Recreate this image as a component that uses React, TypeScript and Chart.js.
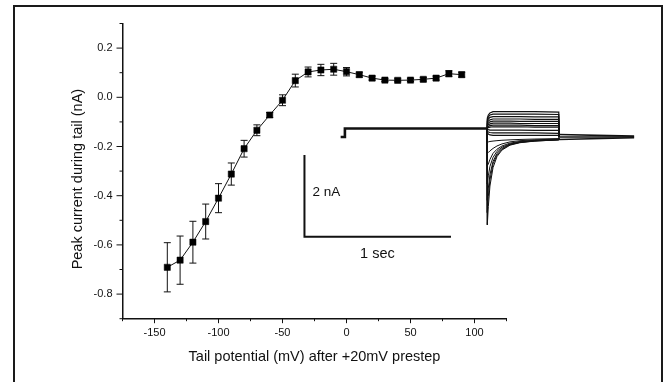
import React, { useEffect, useRef } from "react";
import { Chart, registerables } from "chart.js";

Chart.register(...registerables);

// ---------- Main I-V data ----------
const TAIL_POTENTIAL = [-140, -130, -120, -110, -100, -90, -80, -70, -60, -50, -40, -30, -20, -10, 0, 10, 20, 30, 40, 50, 60, 70, 80, 90];
const PEAK_CURRENT = [-0.691, -0.662, -0.589, -0.505, -0.41, -0.312, -0.209, -0.134, -0.072, -0.012, 0.068, 0.103, 0.111, 0.114, 0.104, 0.092, 0.078, 0.07, 0.069, 0.07, 0.073, 0.078, 0.096, 0.092];
const PEAK_SEM = [0.1, 0.098, 0.085, 0.071, 0.059, 0.045, 0.034, 0.022, 0.01, 0.022, 0.026, 0.02, 0.023, 0.024, 0.017, 0.01, 0.008, 0.006, 0.006, 0.006, 0.007, 0.008, 0.012, 0.01];

const X_MAJOR_TICKS = [-150, -100, -50, 0, 50, 100];
const Y_MAJOR_TICKS = [-0.8, -0.6, -0.4, -0.2, 0.0, 0.2];

const X_TITLE = "Tail potential (mV) after +20mV prestep";
const Y_TITLE = "Peak current during tail (nA)";

// ---------- Inset current traces (time in s, current in nA) ----------
const PRESTEP_T = [-0.013, 0.016, 0.016, 0.988];
const PRESTEP_I = [0.0, 0.0, 0.208, 0.208];

const TAIL_T = [0.988, 0.988, 0.995, 1.006, 1.027, 1.054, 1.088, 1.143, 1.211, 1.313, 1.476, 1.476];
const TAIL_OUTWARD = [
  [0.21, 0.46, 0.54, 0.59, 0.62, 0.62, 0.62, 0.62, 0.62, 0.62, 0.61, 0.02],
  [0.21, 0.42, 0.49, 0.54, 0.56, 0.56, 0.56, 0.56, 0.56, 0.56, 0.55, 0.02],
  [0.21, 0.38, 0.44, 0.48, 0.5, 0.5, 0.5, 0.5, 0.5, 0.49, 0.49, 0.02],
  [0.21, 0.34, 0.39, 0.42, 0.44, 0.44, 0.44, 0.44, 0.44, 0.43, 0.43, 0.02],
  [0.21, 0.3, 0.34, 0.37, 0.39, 0.39, 0.39, 0.39, 0.38, 0.38, 0.38, 0.01],
  [0.21, 0.27, 0.3, 0.32, 0.34, 0.34, 0.34, 0.34, 0.33, 0.33, 0.33, 0.01],
  [0.21, 0.24, 0.26, 0.28, 0.29, 0.29, 0.29, 0.29, 0.29, 0.28, 0.28, 0.01],
  [0.21, 0.22, 0.23, 0.24, 0.25, 0.25, 0.25, 0.25, 0.25, 0.24, 0.24, 0.0],
  [0.21, 0.19, 0.18, 0.17, 0.17, 0.17, 0.17, 0.17, 0.17, 0.16, 0.16, 0.0],
  [0.21, 0.15, 0.12, 0.11, 0.1, 0.1, 0.1, 0.1, 0.1, 0.1, 0.09, 0.0],
  [0.21, 0.1, 0.07, 0.05, 0.04, 0.04, 0.04, 0.04, 0.04, 0.04, 0.04, -0.01],
];
const TAIL_INWARD = [
  [0.21, -2.15, -1.7, -1.2, -0.75, -0.48, -0.32, -0.2, -0.14, -0.1, -0.07, -0.02],
  [0.21, -1.85, -1.45, -1.05, -0.66, -0.44, -0.3, -0.19, -0.13, -0.1, -0.07, -0.02],
  [0.21, -1.55, -1.25, -0.92, -0.6, -0.4, -0.28, -0.18, -0.13, -0.09, -0.07, -0.02],
  [0.21, -1.15, -0.95, -0.72, -0.5, -0.35, -0.25, -0.17, -0.12, -0.09, -0.06, -0.02],
  [0.21, -0.7, -0.66, -0.55, -0.4, -0.3, -0.22, -0.15, -0.11, -0.08, -0.06, -0.02],
  [0.21, -0.4, -0.38, -0.34, -0.28, -0.22, -0.17, -0.12, -0.09, -0.07, -0.05, -0.02],
  [0.21, -0.12, -0.12, -0.11, -0.1, -0.09, -0.08, -0.07, -0.06, -0.05, -0.04, -0.02],
];

const POST_T = [1.476, 1.99];
const POST_I = [
  [0.06, 0.02],
  [0.0, 0.0],
  [-0.06, -0.02],
];

const SCALE_BAR_T = [-0.26, -0.26, 0.74];
const SCALE_BAR_I = [-0.44, -2.44, -2.44];
const SCALE_LABELS = ["2 nA", "1 sec"];

const FONT = "'Liberation Sans', Arial, Helvetica, sans-serif";
const INK = "#111";

const pts = (xs: number[], ys: number[]) => xs.map((x, i) => ({ x, y: ys[i] }));

const customPlugin = {
  id: "custom",
  beforeDatasetsDraw(chart: any) {
    const { ctx } = chart;
    const xs = chart.scales.x;
    const ys = chart.scales.y;
    ctx.save();
    ctx.strokeStyle = INK;
    ctx.lineWidth = 1;
    TAIL_POTENTIAL.forEach((v, i) => {
      const px = xs.getPixelForValue(v);
      const top = ys.getPixelForValue(PEAK_CURRENT[i] + PEAK_SEM[i]);
      const bot = ys.getPixelForValue(PEAK_CURRENT[i] - PEAK_SEM[i]);
      ctx.beginPath();
      ctx.moveTo(px, top);
      ctx.lineTo(px, bot);
      ctx.moveTo(px - 3.5, top);
      ctx.lineTo(px + 3.5, top);
      ctx.moveTo(px - 3.5, bot);
      ctx.lineTo(px + 3.5, bot);
      ctx.stroke();
    });
    ctx.restore();
  },
  afterDraw(chart: any) {
    const { ctx, chartArea } = chart;
    const xs = chart.scales.x;
    const ys = chart.scales.y;
    const x2 = chart.scales.x2;
    const y2 = chart.scales.y2;
    ctx.save();
    ctx.strokeStyle = INK;
    ctx.lineWidth = 1;
    // x ticks
    xs.ticks.forEach((t: any) => {
      const px = xs.getPixelForValue(t.value);
      const major = X_MAJOR_TICKS.includes(t.value);
      ctx.beginPath();
      ctx.moveTo(px, chartArea.bottom);
      ctx.lineTo(px, chartArea.bottom + (major ? 4.5 : 2.5));
      ctx.stroke();
    });
    // y ticks
    ys.ticks.forEach((t: any) => {
      const py = ys.getPixelForValue(t.value);
      const major = Y_MAJOR_TICKS.some((m) => Math.abs(m - t.value) < 1e-6);
      ctx.beginPath();
      ctx.moveTo(chartArea.left, py);
      ctx.lineTo(chartArea.left - (major ? 6 : 3), py);
      ctx.stroke();
    });
    // axis titles
    ctx.fillStyle = "#111";
    ctx.font = `14.5px ${FONT}`;
    ctx.textAlign = "center";
    ctx.textBaseline = "middle";
    ctx.fillText(X_TITLE, (chartArea.left + chartArea.right) / 2, chartArea.bottom + 38);
    ctx.save();
    ctx.translate(chartArea.left - 44.5, (chartArea.top + chartArea.bottom) / 2 + 8);
    ctx.rotate(-Math.PI / 2);
    ctx.fillText(Y_TITLE, 0, 0);
    ctx.restore();
    // inset scale labels
    ctx.font = `13.5px ${FONT}`;
    ctx.textAlign = "left";
    ctx.fillText(SCALE_LABELS[0], x2.getPixelForValue(-0.205), y2.getPixelForValue(-1.36));
    ctx.font = `14.5px ${FONT}`;
    ctx.textAlign = "center";
    ctx.fillText(SCALE_LABELS[1], x2.getPixelForValue(0.238), y2.getPixelForValue(-2.86));
    ctx.restore();
  },
};

export default function App() {
  const ref = useRef<HTMLCanvasElement | null>(null);

  useEffect(() => {
    if (!ref.current) return;
    const traceBase = {
      xAxisID: "x2",
      yAxisID: "y2",
      showLine: true,
      pointRadius: 0,
      borderColor: INK,
      clip: false as any,
      tension: 0,
    };
    const datasets: any[] = [
      {
        data: pts(TAIL_POTENTIAL, PEAK_CURRENT),
        xAxisID: "x",
        yAxisID: "y",
        showLine: true,
        borderColor: INK,
        borderWidth: 1,
        pointStyle: "rect",
        pointRadius: 4.4,
        pointBorderWidth: 0.5,
        pointBackgroundColor: "#000",
        pointBorderColor: "#000",
        order: 0,
      },
      { ...traceBase, data: pts(PRESTEP_T, PRESTEP_I), borderWidth: 2.6, order: 1 },
      ...TAIL_OUTWARD.map((vals) => ({ ...traceBase, data: pts(TAIL_T, vals), borderWidth: 1.2, order: 1 })),
      ...TAIL_INWARD.map((vals) => ({ ...traceBase, data: pts(TAIL_T, vals), borderWidth: 1, order: 1 })),
      ...POST_I.map((vals) => ({ ...traceBase, data: pts(POST_T, vals), borderWidth: 1.6, order: 1 })),
      {
        ...traceBase,
        data: pts(SCALE_BAR_T, SCALE_BAR_I),
        borderWidth: 2,
        borderJoinStyle: "miter",
        borderCapStyle: "butt",
        order: 1,
      },
    ];

    const chart = new Chart(ref.current, {
      type: "scatter",
      data: { datasets },
      plugins: [customPlugin],
      options: {
        animation: false,
        responsive: false,
        devicePixelRatio: 1,
        layout: { padding: { left: 0, top: 23.5, right: 161.5, bottom: 0 } },
        plugins: { legend: { display: false }, tooltip: { enabled: false } },
        scales: {
          x: {
            type: "linear",
            position: "bottom",
            min: -175,
            max: 125,
            ticks: {
              stepSize: 25,
              autoSkip: false,
              maxRotation: 0,
              padding: 8,
              color: "#111",
              font: { family: FONT, size: 11 },
              callback: (v: any) => (X_MAJOR_TICKS.includes(Number(v)) ? String(v) : ""),
            },
            grid: { display: true, drawOnChartArea: false, drawTicks: false },
            border: { display: true, color: INK, width: 1.5 },
            afterFit: (s: any) => {
              s.height = 63.3;
            },
          },
          y: {
            type: "linear",
            position: "left",
            min: -0.9,
            max: 0.3,
            ticks: {
              stepSize: 0.1,
              autoSkip: false,
              padding: 10,
              color: "#111",
              font: { family: FONT, size: 11 },
              callback: (v: any) => {
                const n = Number(v);
                const hit = Y_MAJOR_TICKS.find((m) => Math.abs(m - n) < 1e-6);
                if (hit === undefined) return "";
                return Math.abs(hit) < 1e-9 ? "0.0" : hit.toFixed(1);
              },
            },
            grid: { display: true, drawOnChartArea: false, drawTicks: false },
            border: { display: true, color: INK, width: 1.5 },
            afterFit: (s: any) => {
              s.width = 122.5;
            },
          },
          x2: {
            type: "linear",
            display: false,
            bounds: "data",
            afterDataLimits: (s: any) => {
              s.min = -1.502;
              s.max = 1.119;
            },
          },
          y2: {
            type: "linear",
            display: false,
            bounds: "data",
            afterDataLimits: (s: any) => {
              s.min = -4.448;
              s.max = 2.778;
            },
          },
        },
      } as any,
    });
    return () => chart.destroy();
  }, []);

  return (
    <div style={{ position: "fixed", left: 0, top: 0, width: 668, height: 382, background: "#fff", overflow: "hidden" }}>
      <canvas ref={ref} width={668} height={382} style={{ position: "absolute", left: 0, top: 0 }} />
      <div
        style={{
          position: "absolute",
          left: 13,
          top: 5,
          width: 650,
          height: 420,
          border: "2px solid #1a1a1a",
          boxSizing: "border-box",
          pointerEvents: "none",
        }}
      />
    </div>
  );
}
